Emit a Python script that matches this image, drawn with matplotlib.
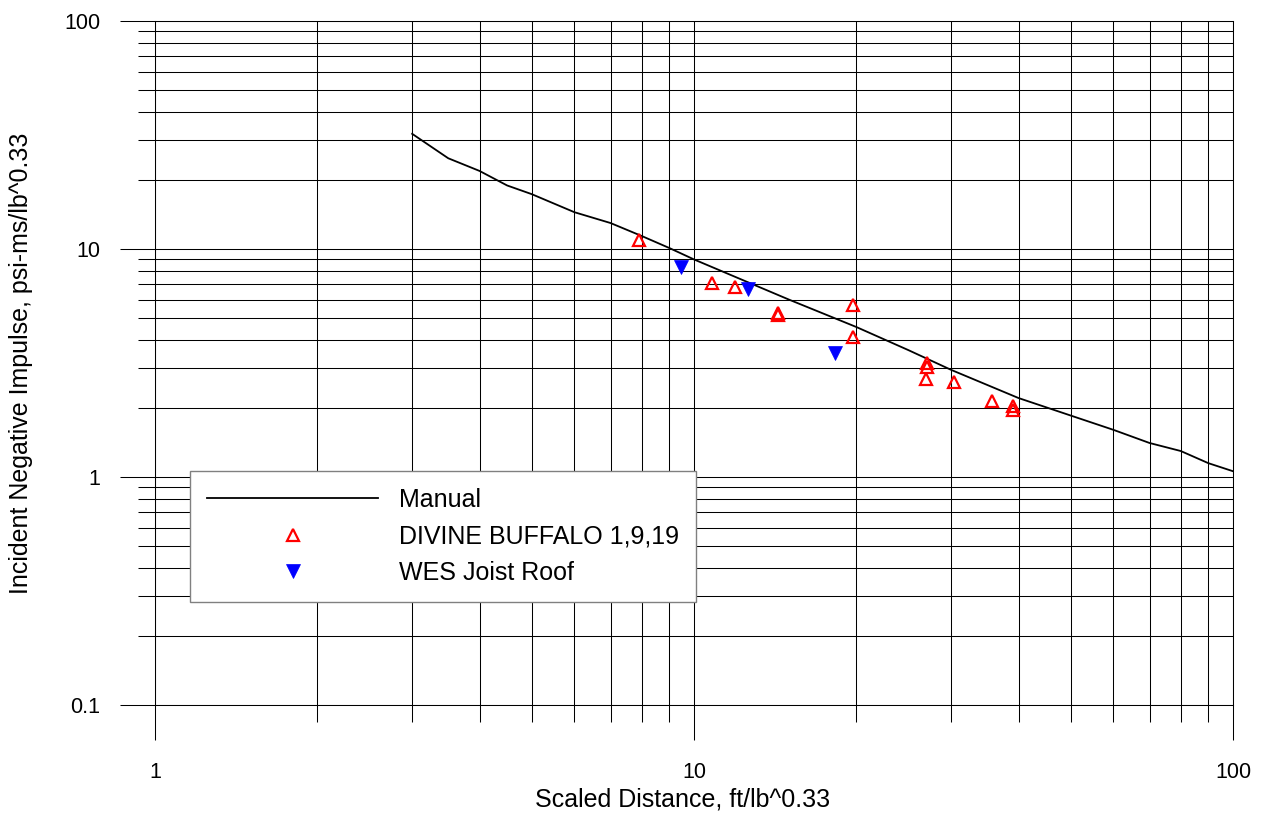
import matplotlib
matplotlib.use("Agg")
import matplotlib.pyplot as plt
from matplotlib.ticker import FixedLocator, NullFormatter, LogLocator

plt.rcParams["font.family"] = ["Liberation Sans", "DejaVu Sans"]

# Manual curve (scaled distance vs incident negative impulse)
manual_x = [3, 3.5, 4, 4.5, 5, 6, 7, 8, 9, 10, 12, 15, 20, 25, 30, 40,
            50, 60, 70, 80, 90, 100]
manual_y = [32, 25, 22, 19, 17.4, 14.5, 13, 11.4, 10.1, 9.0, 7.5, 6.0,
            4.55, 3.6, 2.95, 2.22, 1.86, 1.61, 1.41, 1.30, 1.15, 1.06]

# DIVINE BUFFALO 1,9,19 test points
db_x = [7.9, 10.8, 11.9, 14.3, 14.3, 19.7, 19.7, 27.0, 27.0, 26.9, 30.4,
        35.7, 39.0, 39.0]
db_y = [11.0, 7.1, 6.8, 5.25, 5.15, 5.7, 4.1, 3.15, 3.05, 2.7, 2.6,
        2.15, 2.05, 1.97]

# WES Joist Roof test points
wes_x = [9.45, 12.6, 18.3]
wes_y = [8.3, 6.7, 3.5]

x_ticks = [1, 10, 100]
x_labels = ["1", "10", "100"]
y_ticks = [0.1, 1, 10, 100]
y_labels = ["0.1", "1", "10", "100"]

W, H = 1266, 817
fig = plt.figure(figsize=(W / 100, H / 100), dpi=100)
ax = fig.add_axes([155 / W, 1 - 705 / H, (1233 - 155) / W, (705 - 21) / H])

ax.set_xscale("log")
ax.set_yscale("log")
ax.set_xlim(1, 100)
ax.set_ylim(0.1, 100)

ax.plot(manual_x, manual_y, color="black", lw=1.3, label="Manual", zorder=3)
ax.plot(db_x, db_y, ls="none", marker="^", ms=9, mfc="none", mec="red",
        mew=1.6, label="DIVINE BUFFALO 1,9,19", zorder=4)
ax.plot(wes_x, wes_y, ls="none", marker="v", ms=10, mfc="blue", mec="blue",
        mew=0.5, label="WES Joist Roof", zorder=4)

ax.xaxis.set_major_locator(FixedLocator(x_ticks))
ax.set_xticklabels(x_labels)
ax.yaxis.set_major_locator(FixedLocator(y_ticks))
ax.set_yticklabels(y_labels)
ax.xaxis.set_minor_locator(LogLocator(base=10, subs=range(2, 10)))
ax.yaxis.set_minor_locator(LogLocator(base=10, subs=range(2, 10)))
ax.xaxis.set_minor_formatter(NullFormatter())
ax.yaxis.set_minor_formatter(NullFormatter())

ax.tick_params(which="major", length=25.2, width=0.75, color="black",
               labelsize=15.5)
ax.tick_params(axis="x", which="major", pad=16)
ax.tick_params(axis="y", which="major", pad=14)
ax.tick_params(which="minor", length=12.2, width=0.75, color="black")
ax.grid(which="both", color="black", lw=0.75)
for s in ax.spines.values():
    s.set_linewidth(0.75)

ax.set_xlabel("Scaled Distance, ft/lb^0.33", fontsize=18)
ax.set_ylabel("Incident Negative Impulse, psi-ms/lb^0.33", fontsize=18)
ax.xaxis.set_label_coords(0.4898, -0.121)
ax.yaxis.set_label_coords(-0.113, 0.5)

leg = ax.legend(loc="upper left", bbox_to_anchor=(35 / 1078, (705 - 471) / 684),
                borderaxespad=0, fontsize=18, handlelength=6.84,
                handletextpad=0.85, labelspacing=0.5, borderpad=0.68,
                fancybox=False, framealpha=1, edgecolor="#808080",
                numpoints=1)
leg.get_frame().set_linewidth(1.0)

fig.savefig("out.png", dpi=100)
